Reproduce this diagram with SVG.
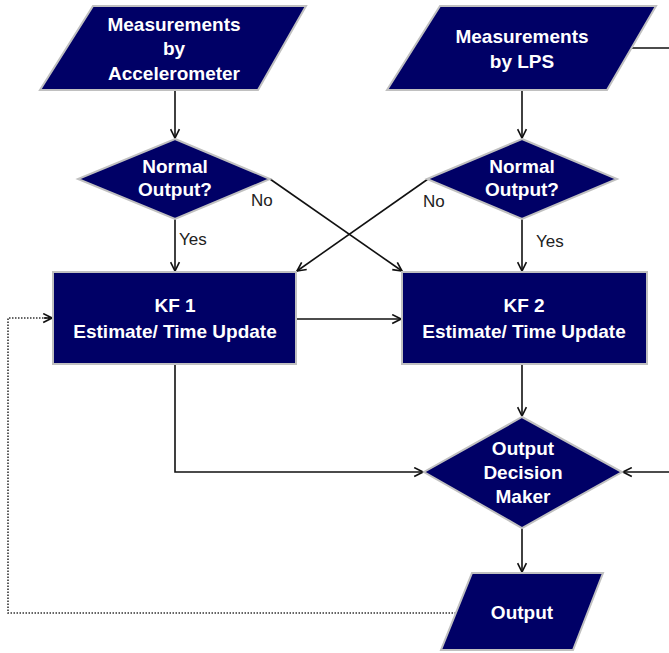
<svg xmlns="http://www.w3.org/2000/svg" width="669" height="653" viewBox="0 0 669 653">
  <defs>
    <marker id="arrow" viewBox="0 0 10 10" refX="9" refY="5" markerWidth="11" markerHeight="11" markerUnits="userSpaceOnUse" orient="auto">
      <path d="M1,1 L9,5 L1,9" fill="none" stroke="#111111" stroke-width="1.5"/>
    </marker>
    <style>
      .shape { fill: #000066; stroke: #c0c0c0; stroke-width: 2; }
      .label { fill: #ffffff; font-family: "Liberation Sans", Arial, sans-serif; font-weight: bold; font-size: 19px; text-anchor: middle; }
      .edge { fill: none; stroke: #111111; stroke-width: 1.6; }
      .dotted { fill: none; stroke: #333333; stroke-width: 1.6; stroke-dasharray: 1.5 1.5; }
      .note { fill: #222222; font-family: "Liberation Sans", Arial, sans-serif; font-size: 17px; }
    </style>
  </defs>

  <!-- connectors -->
  <g id="connectors">
    <line class="edge" x1="175" y1="90" x2="175" y2="138" marker-end="url(#arrow)"/>
    <line class="edge" x1="522" y1="90" x2="522" y2="138" marker-end="url(#arrow)"/>
    <line class="edge" x1="630" y1="48" x2="669" y2="48"/>
    <line class="edge" x1="175" y1="219" x2="175" y2="271" marker-end="url(#arrow)"/>
    <line class="edge" x1="522" y1="219" x2="522" y2="271" marker-end="url(#arrow)"/>
    <line class="edge" x1="270" y1="179" x2="402" y2="271" marker-end="url(#arrow)"/>
    <line class="edge" x1="428" y1="179" x2="297" y2="271" marker-end="url(#arrow)"/>
    <line class="edge" x1="296" y1="319" x2="401" y2="319" marker-end="url(#arrow)"/>
    <line class="edge" x1="522" y1="364" x2="522" y2="416" marker-end="url(#arrow)"/>
    <polyline class="edge" points="175,364 175,472 423,472" marker-end="url(#arrow)"/>
    <line class="edge" x1="669" y1="472" x2="623" y2="472" marker-end="url(#arrow)"/>
    <line class="edge" x1="522" y1="528" x2="522" y2="572" marker-end="url(#arrow)"/>
    <polyline class="dotted" points="456,613 8,613 8,318 50,318"/>
    <line class="edge" x1="44" y1="318" x2="52" y2="318" marker-end="url(#arrow)"/>
    <text class="note" x="251" y="206">No</text>
    <text class="note" x="179" y="245">Yes</text>
    <text class="note" x="423" y="207">No</text>
    <text class="note" x="536" y="247">Yes</text>
  </g>

  <g id="accelerometer">
    <polygon class="shape" points="93,6 306,6 258,90 40,90"/>
    <text class="label" x="174" y="31">Measurements</text>
    <text class="label" x="174" y="55">by</text>
    <text class="label" x="174" y="80">Accelerometer</text>
  </g>

  <g id="lps">
    <polygon class="shape" points="440,6 656,6 607,90 387,90"/>
    <text class="label" x="522" y="43">Measurements</text>
    <text class="label" x="522" y="68">by LPS</text>
  </g>

  <g id="check1">
    <polygon class="shape" points="175,139 270,179 175,219 78,179"/>
    <text class="label" x="175" y="173">Normal</text>
    <text class="label" x="175" y="196">Output?</text>
  </g>

  <g id="check2">
    <polygon class="shape" points="522,139 617,179 522,219 427,179"/>
    <text class="label" x="522" y="173">Normal</text>
    <text class="label" x="522" y="196">Output?</text>
  </g>

  <g id="kf1">
    <rect class="shape" x="53" y="272" width="243" height="92"/>
    <text class="label" x="175" y="312">KF 1</text>
    <text class="label" x="175" y="338">Estimate/ Time Update</text>
  </g>

  <g id="kf2">
    <rect class="shape" x="402" y="272" width="245" height="92"/>
    <text class="label" x="524" y="312">KF 2</text>
    <text class="label" x="524" y="338">Estimate/ Time Update</text>
  </g>

  <g id="decision">
    <polygon class="shape" points="522,417 622,472 522,528 424,472"/>
    <text class="label" x="523" y="455">Output</text>
    <text class="label" x="523" y="479">Decision</text>
    <text class="label" x="523" y="503">Maker</text>
  </g>

  <g id="output">
    <polygon class="shape" points="472,573 603,573 573,650 441,650"/>
    <text class="label" x="522" y="619">Output</text>
  </g>
</svg>
